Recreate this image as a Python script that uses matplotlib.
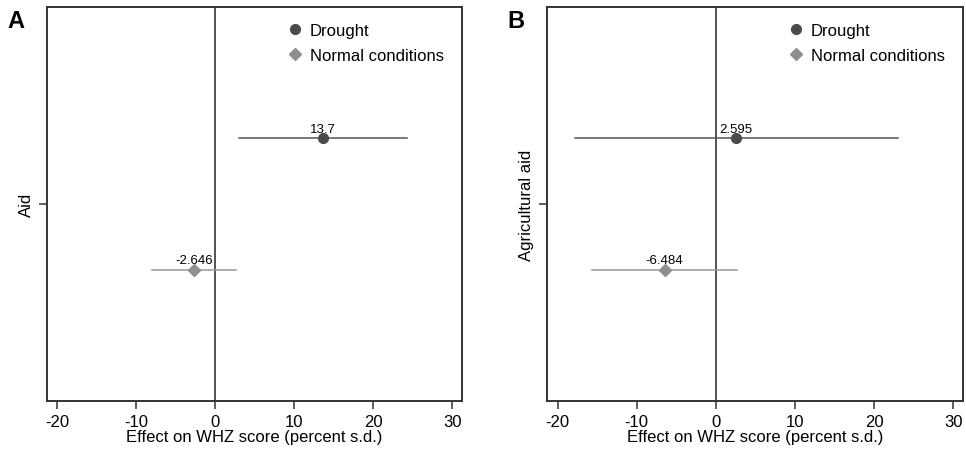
import numpy as np
import matplotlib
matplotlib.use("Agg")
import matplotlib.pyplot as plt

plt.rcParams['font.family'] = ['Liberation Sans', 'DejaVu Sans']

panels = ['A', 'B']
outcomes = ['Aid', 'Agricultural aid']
groups = ['Drought', 'Normal conditions']

# point estimates and 95% CI (percent s.d.)
drought_est = [13.7, 2.595]
drought_lo = [3.0, -17.8]
drought_hi = [24.3, 23.0]
normal_est = [-2.646, -6.484]
normal_lo = [-8.0, -15.7]
normal_hi = [2.7, 2.7]
labels_drought = ['13.7', '2.595']
labels_normal = ['-2.646', '-6.484']

xticks = [-20, -10, 0, 10, 20, 30]

dark = '#4a4a4a'
light = '#8e8e8e'

W, H = 966, 452
fig = plt.figure(figsize=(W / 100, H / 100), dpi=100)
# axes boxes in pixels: left, right, top, bottom
boxes = [(46.7, 461.7, 8, 402.3), (547.3, 962.7, 8, 402.3)]
axes = [fig.add_axes([l / W, 1 - b / H, (r - l) / W, (b - t) / H]) for l, r, t, b in boxes]

for i, ax in enumerate(axes):
    yd, yn = 1 + 1/3, 1 - 1/3
    ax.axvline(0, color='#222222', lw=1.1, zorder=1)
    ax.plot([drought_lo[i], drought_hi[i]], [yd, yd], color='#555555', lw=1.1, zorder=2)
    ax.plot([normal_lo[i], normal_hi[i]], [yn, yn], color='#999999', lw=1.1, zorder=2)
    ax.plot(drought_est[i], yd, 'o', color=dark, ms=7, zorder=3, label=groups[0])
    ax.plot(normal_est[i], yn, 'D', color=light, ms=6.5, zorder=3, label=groups[1])
    ax.annotate(labels_drought[i], (drought_est[i], yd), xytext=(0, 2.5),
                textcoords='offset points', ha='center', va='bottom', fontsize=9.5)
    ax.annotate(labels_normal[i], (normal_est[i], yn), xytext=(0, 2.5),
                textcoords='offset points', ha='center', va='bottom', fontsize=9.5)

    ax.set_xlim(-21.3, 31.2)
    ax.set_ylim(0, 2)
    ax.set_xticks(xticks)
    ax.set_xticklabels([str(t) for t in xticks], fontsize=12)
    ax.set_yticks([1])
    ax.set_yticklabels([outcomes[i]], rotation=90, va='center', fontsize=12)
    ax.tick_params(axis='both', length=6, width=1.1, color='#333333')
    ax.tick_params(axis='x', pad=3)
    ax.set_xlabel('Effect on WHZ score (percent s.d.)', fontsize=12, labelpad=0)
    for s in ax.spines.values():
        s.set_color('#333333')
        s.set_linewidth(1.4)

    ax.legend(loc='upper right', frameon=False, fontsize=12, handletextpad=0.25,
              labelspacing=0.6, borderaxespad=0.3, handlelength=1.3,
              bbox_to_anchor=(0.985, 0.99))
    ax.text(-0.075, 0.966, panels[i], transform=ax.transAxes, fontsize=17,
            fontweight='bold', ha='center', va='center')

fig.savefig('out.png', dpi=100)
